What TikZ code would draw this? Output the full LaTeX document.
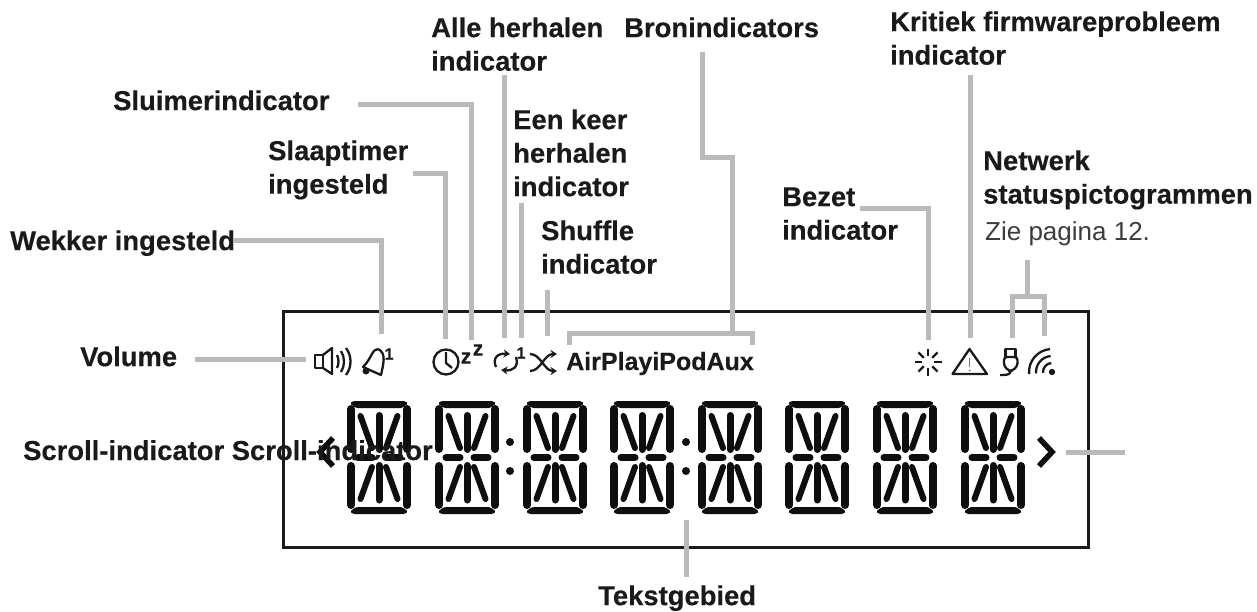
\documentclass[tikz,border=0pt]{standalone}
\usepackage{fontspec}
\setmainfont[BoldFeatures={FakeBold=0.3}]{Liberation Sans}
\usetikzlibrary{arrows.meta}
\definecolor{lead}{HTML}{BABABA}
\definecolor{ink}{HTML}{1A1A1A}
\definecolor{seg}{HTML}{0E0E0E}
\tikzset{
  x=1pt,y=-1pt,
  lbl/.style={anchor=north west,inner sep=0pt,align=left,text=ink,font=\fontsize{27.4}{33.5}\selectfont\bfseries},
  note/.style={anchor=north west,inner sep=0pt,text=ink!85,font=\fontsize{26}{33.5}\selectfont},
  lead/.style={draw=lead,line width=5pt},
  icon/.style={draw=ink,line width=2.3pt,line join=round},
  tiny/.style={inner sep=0pt,text=ink,font=\fontsize{16}{16}\selectfont\bfseries},
  zed/.style={inner sep=0pt,text=ink,font=\fontsize{21}{21}\selectfont\bfseries},
  segm/.style={draw=seg,line cap=round},
  tip/.style={-{Stealth[length=6.5pt,width=8pt]}},
}
\newcommand{\lcddigit}[1]{%
  \begin{scope}[shift={(#1,401)}]
    \fill[seg,rounded corners=1.5pt] (6,0) -- (58,0) -- (61,2.5) -- (55,7) -- (9,7) -- (3,2.5) -- cycle;
    \fill[seg,rounded corners=1.5pt] (6,113) -- (58,113) -- (61,110.5) -- (55,106) -- (9,106) -- (3,110.5) -- cycle;
    \foreach \xa/\ya/\xb/\yb/\w in {4/8/4/48/8, 60/8/60/48/8, 4/65/4/104/8, 60/65/60/104/8,
        32/14.5/32/48.5/7, 32/64.5/32/99/7, 11/56.5/25/56.5/7, 39/56.5/53/56.5/7,
        13.5/15/25/47/6, 50.5/15/39/47/6, 25/66/13.5/98/6, 39/66/50.5/98/6}
      \draw[segm,line width=\w pt] (\xa,\ya) -- (\xb,\yb);
  \end{scope}}
\begin{document}
\begin{tikzpicture}
\useasboundingbox (0,0) rectangle (1257,612);
\fill[white] (0,0) rectangle (1257,612);

% display frame
\draw[ink,line width=3pt] (283.5,311) rectangle (1088,547);

% digits
\lcddigit{347}\lcddigit{435}\lcddigit{523}\lcddigit{610}\lcddigit{698}\lcddigit{785}\lcddigit{873}\lcddigit{961}
\foreach \cx in {510,686}{\fill[seg] (\cx,442) circle[radius=4pt] (\cx,471) circle[radius=4pt];}
\draw[seg,line width=5.5pt,line join=miter] (333,438) -- (320,452) -- (333,466);
\draw[seg,line width=5.5pt,line join=miter] (1039,438) -- (1052,452) -- (1039,466);

% connector end points
\coordinate (tVolume) at (306,359);
\coordinate (tBell) at (381,334);
\coordinate (tClock) at (445,339);
\coordinate (tSnooze) at (471,340);
\coordinate (tRepeat) at (504,338);
\coordinate (tOnce) at (521,338);
\coordinate (tShuffle) at (547,336);
\coordinate (tBracketL) at (569,345);
\coordinate (tBracketM) at (732,333);
\coordinate (tBracketR) at (752,345);
\coordinate (tBusy) at (928,340);
\coordinate (tWarn) at (970,338);
\coordinate (tUsb) at (1012.5,338);
\coordinate (tWifi) at (1044,336);
\coordinate (tBar) at (1027,296);
\coordinate (tScrollA) at (1066,452);
\coordinate (tScrollB) at (1125,452);
\coordinate (tText) at (686,520);

% labels
\node[lbl] (lAlle) at (431,13.5) {\strut Alle herhalen\\indicator};
\node[lbl] (lBron) at (624,13.5) {\strut Bronindicators};
\node[lbl] (lKrit) at (890,7.5) {\strut Kritiek firmwareprobleem\\indicator};
\node[lbl] (lSluim) at (113,86.5) {\strut Sluimerindicator};
\node[lbl] (lSlaap) at (268,136.5) {\strut Slaaptimer\\ingesteld};
\node[lbl] (lEen) at (513,105.5) {\strut Een keer\\herhalen\\indicator};
\node[lbl] (lShuf) at (541,216.5) {\strut Shuffle\\indicator};
\node[lbl] (lWekker) at (10,226.5) {\strut Wekker ingesteld};
\node[lbl] (lVol) at (80,342.5) {\strut Volume};
\node[lbl] (lBezet) at (782,182.5) {\strut Bezet\\indicator};
\node[lbl] (lNet) at (983,146.5) {\strut Netwerk\\statuspictogrammen};
\node[note] (lZie) at (985,216.5) {\strut Zie pagina 12.};
\node[lbl] (lText) at (598,581.5) {\strut Tekstgebied};
\node[anchor=base west,inner sep=0pt,text=ink,font=\fontsize{25}{30}\selectfont\bfseries] (lSrc) at (566,370) {AirPlayiPodAux};

% free starts of connectors
\coordinate (sWekker) at (233,241);
\coordinate (sSlaap) at (413,174);
\coordinate (sSluim) at (358,105);
\coordinate (sAlle) at (504,75);
\coordinate (sEen) at (521,203);
\coordinate (sShuf) at (547,290);
\coordinate (sBron) at (702,52);
\coordinate (sBronK) at (732,158);
\coordinate (sBezet) at (860,209);
\coordinate (sKrit) at (970,75);
\coordinate (sNet) at (1027,260);
\coordinate (sVol) at (195,359);
\coordinate (sText) at (686,577);

% connectors
\draw[lead] (sWekker) -| (tBell);
\draw[lead] (sSlaap) -| (tClock);
\draw[lead] (sSluim) -| (tSnooze);
\draw[lead] (sAlle) -- (tRepeat);
\draw[lead] (sEen) -- (tOnce);
\draw[lead] (sShuf) -- (tShuffle);
\draw[lead] (sBron) |- (sBronK) -- (tBracketM);
\draw[lead] (tBracketL) |- (tBracketM) -| (tBracketR);
\draw[lead] (sBezet) -| (tBusy);
\draw[lead] (sKrit) -- (tWarn);
\draw[lead] (sNet) -- (tBar);
\draw[lead] (tUsb) |- (tBar) -| (tWifi);
\draw[lead] (sVol) -- (tVolume);
\draw[lead] (tScrollA) -- (tScrollB);
\draw[lead] (sText) -- (tText);

% speaker
\draw[icon] (315,355) rectangle (323,368);
\draw[icon] (323,355) -- (332,348) -- (332,374) -- (323,368);
\draw[icon] (337,355) .. controls (339,359) and (339,364) .. (337,368);
\draw[icon] (341,351) .. controls (345,357) and (345,366) .. (341,372);
\draw[icon] (346,348) .. controls (352,356) and (352,367) .. (346,375);
% bell
\draw[icon] (378,349) .. controls (372,349) and (372,358) .. (363,367) -- (381,375) .. controls (383,365) and (387,353) .. (378,349);
\fill[ink] (366,371) circle[radius=3.5pt];
\node[tiny] (nBell) at (389,354) {1};
% clock
\draw[icon] (446,362) circle[radius=12.5pt];
\draw[icon] (446,352) -- (446,363) -- (452,368);
\node[zed] (nZa) at (466,358) {z};
\node[zed] (nZb) at (478,350) {z};
% repeat
\draw[icon,tip] (496,367) .. controls (492,358) and (498,353) .. (510,354);
\draw[icon,tip] (516,357) .. controls (519,367) and (513,371) .. (501,370);
\node[tiny] (nOnce) at (521,353) {1};
% shuffle
\draw[icon,tip] (530,354) .. controls (541,354) and (544,371) .. (557,371);
\draw[icon,tip] (530,371) .. controls (541,371) and (544,354) .. (557,354);
% busy
\foreach \a in {0,45,...,315}{\draw[ink,line width=2.3pt] (928,362) ++(\a:6pt) -- ++(\a:7.5pt);}
% warning
\draw[icon] (969.5,349) -- (987,374) -- (952.5,374) -- cycle;
\draw[ink!60,line width=1.5pt] (969.5,358) -- (969.5,367);
\fill[ink!60] (969.5,370.5) circle[radius=1pt];
% plug
\draw[icon] (1005.5,349) rectangle (1015.5,357);
\draw[icon,rounded corners=3pt] (1004,357) -- (1017.5,357) -- (1017.5,366) -- (1012,371) -- (1009,371) -- (1004,366) -- cycle;
\draw[icon] (1010.5,371) .. controls (1010.5,375) and (1006,375) .. (1000,375);
% wifi
\fill[ink] (1052,372) circle[radius=3.2pt];
\draw[icon] (1052,372) ++(185:9pt) arc[start angle=185,end angle=95,radius=9pt];
\draw[icon] (1052,372) ++(185:16pt) arc[start angle=185,end angle=95,radius=16pt];
\draw[icon] (1052,372) ++(185:23pt) arc[start angle=185,end angle=95,radius=23pt];

% overlapping scroll label, drawn last as in the source
\node[anchor=base west,inner sep=0pt,text=ink,font=\fontsize{27.4}{33.5}\selectfont\bfseries] (lScroll) at (23,460) {Scroll-indicator Scroll-indicator};
\end{tikzpicture}
\end{document}
